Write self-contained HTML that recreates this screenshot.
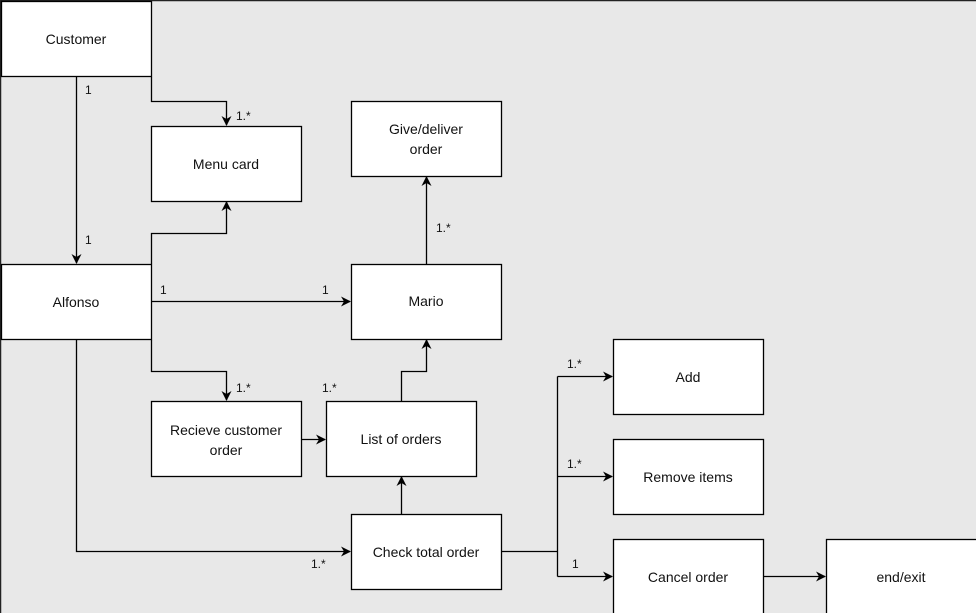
<!DOCTYPE html>
<html><head><meta charset="utf-8"><style>
html,body{margin:0;padding:0;}
body{width:976px;height:613px;overflow:hidden;background:#e8e8e8;}
svg{display:block;font-family:"Liberation Sans",Arial,sans-serif;}
</style></head><body>
<svg width="976" height="613" viewBox="0 0 976 613" xmlns="http://www.w3.org/2000/svg">
<defs>
<marker id="a" markerWidth="10" markerHeight="10" refX="9" refY="5" orient="auto" markerUnits="userSpaceOnUse">
<path d="M0,0 L10,5 L0,10 L3,5 Z" fill="#000"/>
</marker>
</defs>
<rect x="0" y="0" width="976" height="613" fill="#e8e8e8"/>
<line x1="0" y1="0.5" x2="976" y2="0.5" stroke="#222" stroke-width="1.5"/>
<line x1="0.5" y1="0" x2="0.5" y2="613" stroke="#222" stroke-width="1.5"/>
<g fill="#fff" stroke="#000" stroke-width="1.3">
<rect x="1.5" y="1.5" width="150" height="75"/>
<rect x="151.5" y="126.5" width="150" height="75"/>
<rect x="351.5" y="101.5" width="150" height="75"/>
<rect x="1.5" y="264.5" width="150" height="75"/>
<rect x="351.5" y="264.5" width="150" height="75"/>
<rect x="151.5" y="401.5" width="150" height="75"/>
<rect x="326.5" y="401.5" width="150" height="75"/>
<rect x="351.5" y="514.5" width="150" height="75"/>
<rect x="613.5" y="339.5" width="150" height="75"/>
<rect x="613.5" y="439.5" width="150" height="75"/>
<rect x="613.5" y="539.5" width="150" height="80"/>
<rect x="826.5" y="539.5" width="152" height="80"/>
</g>
<g fill="none" stroke="#000" stroke-width="1.3">
<path d="M76.5,77 V263" marker-end="url(#a)"/>
<path d="M151.5,77 V101.5 H226.5 V125" marker-end="url(#a)"/>
<path d="M151.5,264 V233.5 H226.5 V202" marker-end="url(#a)"/>
<path d="M152,301.5 H350" marker-end="url(#a)"/>
<path d="M426.5,264 V177" marker-end="url(#a)"/>
<path d="M151.5,340 V371.5 H226.5 V400" marker-end="url(#a)"/>
<path d="M302,439.5 H325" marker-end="url(#a)"/>
<path d="M401.5,401 V371.5 H426.5 V340" marker-end="url(#a)"/>
<path d="M401.5,514 V477" marker-end="url(#a)"/>
<path d="M76.5,340 V551.5 H350" marker-end="url(#a)"/>
<path d="M502,551.5 H557.5"/>
<path d="M557.5,376.5 V576.5"/>
<path d="M557.5,376.5 H612" marker-end="url(#a)"/>
<path d="M557.5,476.5 H612" marker-end="url(#a)"/>
<path d="M557.5,576.5 H612" marker-end="url(#a)"/>
<path d="M764,576.5 H825" marker-end="url(#a)"/>
</g>
<g font-size="14" fill="#111" text-anchor="middle">
<text x="76" y="44">Customer</text>
<text x="226" y="169">Menu card</text>
<text x="426" y="134">Give/deliver</text>
<text x="426" y="154">order</text>
<text x="76" y="307">Alfonso</text>
<text x="426" y="306">Mario</text>
<text x="226" y="435">Recieve customer</text>
<text x="226" y="455">order</text>
<text x="401" y="444">List of orders</text>
<text x="426" y="557">Check total order</text>
<text x="688" y="382">Add</text>
<text x="688" y="482">Remove items</text>
<text x="688" y="582">Cancel order</text>
<text x="901" y="582">end/exit</text>
</g>
<g font-size="12" fill="#111">
<text x="85" y="94">1</text>
<text x="85" y="244">1</text>
<text x="236" y="120">1.*</text>
<text x="160" y="294">1</text>
<text x="322" y="294">1</text>
<text x="436" y="232">1.*</text>
<text x="236" y="392">1.*</text>
<text x="322" y="392">1.*</text>
<text x="311" y="568">1.*</text>
<text x="567" y="368">1.*</text>
<text x="567" y="468">1.*</text>
<text x="572" y="568">1</text>
</g>
</svg>
</body></html>
